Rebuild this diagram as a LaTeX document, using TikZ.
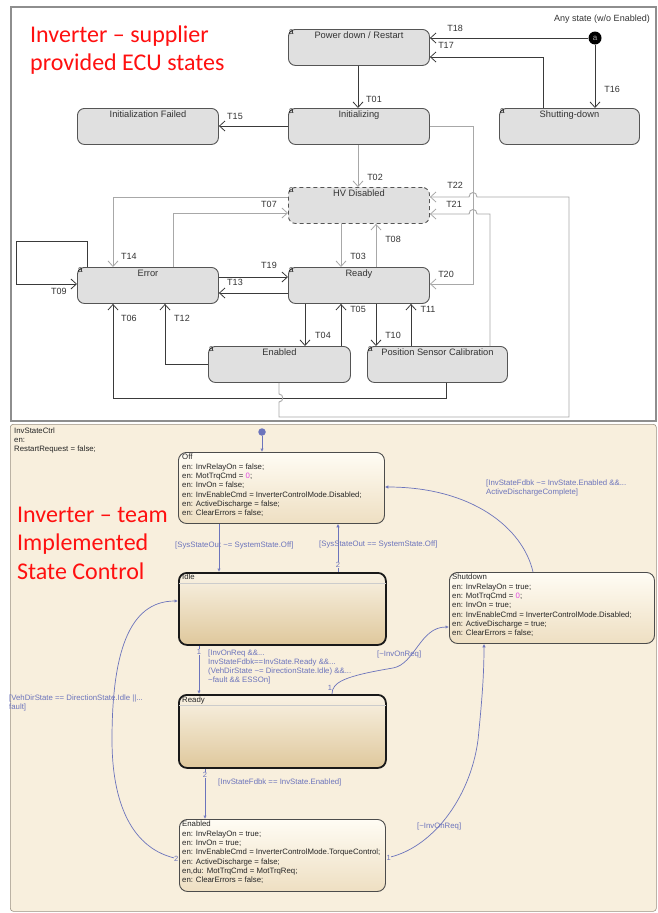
\documentclass[tikz,border=0pt]{standalone}
\usepackage{fontspec}
\setmainfont{Liberation Sans}
\newfontfamily\headfont{Carlito}
\usetikzlibrary{arrows.meta,calc}

\definecolor{dkline}{HTML}{3A3A3A}
\definecolor{gyline}{HTML}{A8A8A8}
\definecolor{stfill}{HTML}{E0E0E0}
\definecolor{stdraw}{HTML}{555555}
\definecolor{framegray}{HTML}{8E8E8E}
\definecolor{panelbg}{HTML}{F8EFDD}
\definecolor{paneledge}{HTML}{9A9080}
\definecolor{sfblue}{HTML}{6C74BC}
\definecolor{sfpink}{HTML}{E048E0}
\definecolor{boxtop}{HTML}{FFFCF4}
\definecolor{boxbot}{HTML}{EEDFC2}
\definecolor{boxtopB}{HTML}{F9F2E4}
\definecolor{boxbotB}{HTML}{DFC89C}
\definecolor{headred}{HTML}{FF1010}

\begin{document}
\begin{tikzpicture}[x=1pt, y=-1pt,
  st/.style={draw=stdraw, fill=stfill, line width=0.9pt, rounded corners=7pt,
    minimum width=141pt, minimum height=36pt, inner sep=0pt, anchor=north west},
  stname/.style={anchor=north, inner sep=3pt, font=\fontsize{9.3}{11}\selectfont, text=black!80},
  corner/.style={anchor=north west, inner sep=0.6pt, font=\fontsize{8.5}{9}\selectfont, text=black!90},
  tlab/.style={font=\fontsize{9}{10}\selectfont, text=black!80, inner sep=0pt},
  barb/.style={-{Straight Barb[length=5.5pt,width=10pt,line width=0.8pt]}},
  dk/.style={draw=dkline, line width=0.9pt, barb},
  gy/.style={draw=gyline, line width=0.9pt, barb},
  redhead/.style={font=\headfont\fontsize{24}{28.5}\selectfont, text=headred, align=left, inner sep=0pt, anchor=north west},
  sfbox/.style={draw=black!70, line width=0.9pt, rounded corners=8pt, top color=boxtop, bottom color=boxbot, anchor=north west, inner sep=0pt},
  sfboxthick/.style={draw=black!90, line width=1.8pt, rounded corners=8pt, top color=boxtopB, bottom color=boxbotB, anchor=north west, inner sep=0pt},
  sftext/.style={font=\fontsize{7.8}{9.3}\selectfont, align=left, inner sep=0pt, anchor=north west, text=black!85},
  sflab/.style={font=\fontsize{7.8}{9}\selectfont, align=left, inner sep=0pt, anchor=west, text=sfblue},
  sfnum/.style={font=\fontsize{7.5}{8}\selectfont, text=sfblue, inner sep=0.4pt, fill=panelbg},
  sftr/.style={draw=sfblue, line width=0.7pt, -{Latex[open,length=3.5pt,width=3.5pt]}},
]
\useasboundingbox (0,0) rectangle (657,913);
\fill[white] (0,0) rectangle (657,913);

% ---------------- supplier state machine ----------------
\draw[framegray, line width=1.3pt] (11,7) rectangle (656,421);
\node[redhead] (toptitle) at (30,25.5) {Inverter – supplier\\provided ECU states};

\node[st, label={[stname]north:Power down / Restart}, label={[corner]north west:a}] (pd) at (288,29) {};
\node[st, label={[stname]north:Initializing}, label={[corner]north west:a}] (init) at (288,108) {};
\node[st, label={[stname]north:Initialization Failed}] (ifail) at (77,108) {};
\node[st, minimum width=140pt, label={[stname]north:Shutting-down}, label={[corner]north west:a}] (sd) at (499,108) {};
\node[st, dashed, dash pattern=on 4pt off 3pt, label={[stname]north:HV Disabled}, label={[corner]north west:a}] (hv) at (288,187) {};
\node[st, label={[stname]north:Error}, label={[corner]north west:a}] (err) at (77,267) {};
\node[st, label={[stname]north:Ready}, label={[corner]north west:a}] (rdy) at (288,267) {};
\node[st, minimum width=142pt, label={[stname]north:Enabled}, label={[corner]north west:a}] (en) at (208,346) {};
\node[st, minimum width=140pt, label={[stname]north:Position Sensor Calibration}, label={[corner]north west:a}] (psc) at (367,346) {};

\node[circle, fill=black, minimum size=13pt, inner sep=0pt, font=\fontsize{8}{8}\selectfont, text=gray!70] (anys) at (595,38) {a};
\node[tlab] (anylab) at (602,19) {Any state (w/o Enabled)};

% dark transitions
\draw[dk] (anys) -- (pd.east |- anys);
\draw[dk] (sd.north -| 543,0) |- (pd.east |- 0,57);
\draw[dk] (anys) -- (sd.north -| anys);
\draw[dk] (pd.south -| 358,0) -- (init.north -| 358,0);
\draw[dk] (init.west |- 0,126) -- (ifail.east |- 0,126);
\draw[dk] (err.east |- 0,277) -- (rdy.west |- 0,277);
\draw[dk] (rdy.west |- 0,293) -- (err.east |- 0,293);
\draw[dk] (err.north -| 87,0) |- (16,241) |- (err.west |- 0,284);
\draw[dk] (rdy.south -| 305,0) -- (en.north -| 305,0);
\draw[dk] (en.north -| 341,0) -- (rdy.south -| 341,0);
\draw[dk] (rdy.south -| 376,0) -- (psc.north -| 376,0);
\draw[dk] (psc.north -| 411,0) -- (rdy.south -| 411,0);
\draw[dk] (en.west |- 0,364) -| (err.south -| 165,0);
\draw[dk] (psc.south -| 446,0) |- (113,398) -- (err.south -| 113,0);

% grey transitions
\draw[gy] (init.south -| 358,0) -- (hv.north -| 358,0);
\draw[gy] (hv.south -| 341,0) -- (rdy.north -| 341,0);
\draw[gy] (rdy.north -| 376,0) -- (hv.south -| 376,0);
\draw[gy] (hv.west |- 0,197) -| (err.north -| 113,0);
\draw[gy] (err.north -| 173,0) |- (hv.west |- 0,213);
\draw[gy] (init.east |- 0,126) -| (473,284) -- (rdy.east |- 0,284);
\draw[gy] (en.south -| 279,0) -- (279,394) .. controls (284,394) and (284,402) .. (279,402)
  -- (279,417) -| (569,197) -- (477,197) .. controls (477,191) and (469,191) .. (469,197)
  -- (hv.east |- 0,197);
\draw[gy] (psc.north -| 490,0) |- (477,214) .. controls (477,208) and (469,208) .. (469,214)
  -- (hv.east |- 0,214);

% transition names
\node[tlab] (t18) at (455,28) {T18};
\node[tlab] (t17) at (446,45) {T17};
\node[tlab] (t16) at (612,89) {T16};
\node[tlab] (t01) at (374,99) {T01};
\node[tlab] (t15) at (235,116) {T15};
\node[tlab] (t02) at (375,177) {T02};
\node[tlab] (t22) at (455,185) {T22};
\node[tlab] (t21) at (454,204) {T21};
\node[tlab] (t07) at (269,204) {T07};
\node[tlab] (t08) at (393,239) {T08};
\node[tlab] (t14) at (129,256) {T14};
\node[tlab] (t03) at (358,256) {T03};
\node[tlab] (t19) at (269,265) {T19};
\node[tlab] (t20) at (446,274) {T20};
\node[tlab] (t13) at (235,282) {T13};
\node[tlab] (t09) at (59,291) {T09};
\node[tlab] (t05) at (358,309) {T05};
\node[tlab] (t11) at (428,309) {T11};
\node[tlab] (t06) at (129,318) {T06};
\node[tlab] (t12) at (182,318) {T12};
\node[tlab] (t04) at (323,335) {T04};
\node[tlab] (t10) at (393,335) {T10};

% ---------------- team state chart ----------------
\node[draw=paneledge, line width=0.6pt, fill=panelbg, rounded corners=3pt, minimum width=646pt,
  minimum height=487pt, anchor=north west, inner sep=0pt] (chart) at (10,424) {};
\node[sftext] (charttxt) at (14,427.5) {InvStateCtrl\\en:\\RestartRequest = false;};
\node[redhead] (bottitle) at (17,506.5) {Inverter – team\\Implemented\\State Control};

\node[sfbox, minimum width=206pt, minimum height=71pt] (off) at (178,452) {};
\node[sftext] (offtxt) at (182,454) {Off\\en: InvRelayOn = false;\\en: MotTrqCmd = \textcolor{sfpink}{0};\\en: InvOn = false;\\en: InvEnableCmd = InverterControlMode.Disabled;\\en: ActiveDischarge = false;\\en: ClearErrors = false;};

\node[sfboxthick, minimum width=207pt, minimum height=72pt] (idle) at (178,572) {};
\draw[black!20, line width=0.5pt] ($(idle.north west)+(1,11)$) -- ($(idle.north east)+(-1,11)$);
\node[sftext] (idletxt) at (182,574) {Idle};

\node[sfboxthick, minimum width=207pt, minimum height=73pt] (rdy2) at (178,694) {};
\draw[black!20, line width=0.5pt] ($(rdy2.north west)+(1,11)$) -- ($(rdy2.north east)+(-1,11)$);
\node[sftext] (rdytxt) at (182,696.5) {Ready};

\node[sfbox, minimum width=206pt, minimum height=72pt] (enb) at (179,819) {};
\node[sftext] (enbtxt) at (182,821) {Enabled\\en: InvRelayOn = true;\\en: InvOn = true;\\en: InvEnableCmd = InverterControlMode.TorqueControl;\\en: ActiveDischarge = false;\\en,du: MotTrqCmd = MotTrqReq;\\en: ClearErrors = false;};

\node[sfbox, minimum width=205pt, minimum height=71pt] (shut) at (449,572) {};
\node[sftext] (shuttxt) at (452,574) {Shutdown\\en: InvRelayOn = true;\\en: MotTrqCmd = \textcolor{sfpink}{0};\\en: InvOn = true;\\en: InvEnableCmd = InverterControlMode.Disabled;\\en: ActiveDischarge = true;\\en: ClearErrors = false;};

% chart transitions
\node[circle, fill=sfblue, minimum size=7.5pt, inner sep=0pt] (dflt) at (262,432) {};
\draw[sftr] (dflt) -- (off.north -| dflt);
\draw[sftr] (off.south -| 219,0) -- (idle.north -| 219,0);
\draw[sftr] (idle.north -| 338,0) -- node[sfnum, pos=0.15] {2} (off.south -| 338,0);
\draw[sftr] (shut.north -| 533,0) .. controls (523,528) and (472,487) .. (off.east |- 0,487);
\draw[sftr] (idle.south -| 199,0) -- node[sfnum, pos=0.12] {1} (rdy2.north -| 199,0);
\draw[sftr] (rdy2.north -| 332,0) .. controls (332,682) and (345,676) .. (393,668)
  .. controls (415,664) and (420,627) .. (shut.west |- 0,627);
\node[sfnum] (n1r) at (330,688) {1};
\draw[sftr] (rdy2.south -| 205,0) -- node[sfnum, pos=0.12] {2} (enb.north -| 205,0);
\draw[sftr] (enb.west |- 0,859) .. controls (130,850) and (112,800) .. (112,740)
  .. controls (112,655) and (128,601) .. (idle.west |- 0,601);
\node[sfnum, anchor=east] (n2e) at (enb.west |- 0,859) {2};
\draw[sftr] (enb.east |- 0,858) .. controls (430,850) and (470,800) .. (478,740)
  .. controls (482,700) and (484,675) .. (shut.south -| 484,0);
\node[sfnum, anchor=west] (n1e) at (enb.east |- 0,858) {1};

% guards
\node[sflab] (g1) at (175,545) {[SysStateOut \textasciitilde= SystemState.Off]};
\node[sflab] (g2) at (319,544) {[SysStateOut == SystemState.Off]};
\node[sflab, anchor=north west] (g3) at (486,480) {[InvStateFdbk \textasciitilde= InvState.Enabled \&\&...\\ActiveDischargeComplete]};
\node[sflab, anchor=north west] (g4) at (208,650) {[InvOnReq \&\&...\\InvStateFdbk==InvState.Ready \&\&...\\(VehDirState \textasciitilde= DirectionState.Idle) \&\&...\\\textasciitilde fault \&\& ESSOn]};
\node[sflab] (g5) at (377,654) {[\textasciitilde InvOnReq]};
\node[sflab] (g6) at (218,782) {[InvStateFdbk == InvState.Enabled]};
\node[sflab, anchor=north west] (g7) at (9,695) {[VehDirState == DirectionState.Idle ||...\\fault]};
\node[sflab] (g8) at (417,826) {[\textasciitilde InvOnReq]};
\end{tikzpicture}
\end{document}
